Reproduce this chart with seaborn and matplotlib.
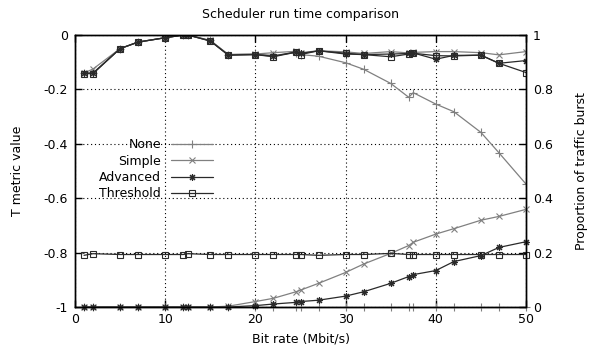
import matplotlib
matplotlib.use('Agg')
import matplotlib.pyplot as plt
import seaborn as sns
from matplotlib.ticker import FuncFormatter

# bit rate (Mbit/s)
bit_rate = [1, 2, 5, 7, 10, 12, 12.5, 15, 17, 20, 22, 24.5, 25, 27, 30, 32, 35, 37, 37.5, 40, 42, 45, 47, 50]

# T metric value (left axis)
t_none = [-0.14, -0.14, -0.05, -0.026, -0.01, 0, 0, -0.02, -0.072, -0.07, -0.075, -0.065, -0.072, -0.078,
          -0.102, -0.126, -0.178, -0.229, -0.212, -0.254, -0.282, -0.358, -0.433, -0.548]
t_simple = [-0.14, -0.125, -0.05, -0.026, -0.01, 0, 0, -0.02, -0.072, -0.07, -0.065, -0.06, -0.065, -0.058,
            -0.062, -0.068, -0.061, -0.066, -0.064, -0.061, -0.061, -0.065, -0.073, -0.061]
t_advanced = [-0.14, -0.14, -0.05, -0.026, -0.01, 0, 0, -0.022, -0.074, -0.072, -0.078, -0.062, -0.068, -0.058,
              -0.07, -0.072, -0.07, -0.068, -0.066, -0.089, -0.075, -0.074, -0.104, -0.094]
t_threshold = [-0.142, -0.142, -0.05, -0.026, -0.01, 0, 0, -0.022, -0.074, -0.072, -0.08, -0.063, -0.072, -0.058,
               -0.067, -0.072, -0.08, -0.07, -0.067, -0.076, -0.077, -0.074, -0.104, -0.138]

# proportion of traffic burst (right axis)
p_none = [0] * 24
p_simple = [0, 0, 0, 0, 0, 0, 0, 0, 0.003, 0.02, 0.032, 0.056, 0.062, 0.087, 0.127, 0.158, 0.197, 0.226,
            0.238, 0.268, 0.288, 0.319, 0.333, 0.359]
p_advanced = [0, 0, 0, 0, 0, 0, 0, 0, 0, 0.005, 0.011, 0.017, 0.02, 0.025, 0.04, 0.056, 0.087, 0.112,
              0.119, 0.134, 0.167, 0.189, 0.219, 0.24]
p_threshold = [0.19, 0.196, 0.193, 0.193, 0.193, 0.193, 0.196, 0.193, 0.193, 0.193, 0.193, 0.193, 0.193,
               0.19, 0.193, 0.193, 0.197, 0.193, 0.193, 0.193, 0.193, 0.193, 0.193, 0.193]

names = ['None', 'Simple', 'Advanced', 'Threshold']
gray = '#808080'
dark = '#2a2a2a'
styles = {
    'None': dict(color=gray, marker='+', markersize=5.5),
    'Simple': dict(color=gray, marker='x', markersize=4.5),
    'Advanced': dict(color=dark, marker=(8, 2, 0), markersize=5),
    'Threshold': dict(color=dark, marker='s', markersize=4.2),
}

sns.set_theme(style='white')
plt.rcParams['font.family'] = ['DejaVu Sans']
plt.rcParams['axes.unicode_minus'] = False
plt.rcParams['text.color'] = 'black'
plt.rcParams['axes.labelcolor'] = 'black'
fs = 9

fig = plt.figure(figsize=(5.94, 3.58), dpi=100)
ax = fig.add_axes([75 / 594, 1 - 307 / 358, 451 / 594, 272 / 358])
ax2 = ax.twinx()

for name, t_vals, p_vals in zip(names, [t_none, t_simple, t_advanced, t_threshold],
                                [p_none, p_simple, p_advanced, p_threshold]):
    st = styles[name]
    sns.lineplot(x=bit_rate, y=t_vals, ax=ax, label=name, linewidth=0.9, mfc='none',
                 markeredgewidth=0.8, markeredgecolor=st['color'], **st)
    sns.lineplot(x=bit_rate, y=p_vals, ax=ax2, legend=False, linewidth=0.9, mfc='none',
                 markeredgewidth=0.8, markeredgecolor=st['color'], clip_on=False, **st)

ax.set_xlim(0, 50)
ax.set_ylim(-1, 0)
ax2.set_ylim(0, 1)
ax.set_xticks([0, 10, 20, 30, 40, 50])
ax.set_yticks([0, -0.2, -0.4, -0.6, -0.8, -1])
ax2.set_yticks([0, 0.2, 0.4, 0.6, 0.8, 1])
fmt = FuncFormatter(lambda v, pos: '%g' % round(v, 2))
ax.yaxis.set_major_formatter(fmt)
ax2.yaxis.set_major_formatter(fmt)

ax.grid(True, color='black', linestyle=(0, (1, 2.5)), linewidth=0.8)
ax.tick_params(axis='x', direction='in', top=True, bottom=True, length=5, width=1, pad=4,
               labelsize=fs, colors='black')
ax.tick_params(axis='y', direction='in', left=True, right=False, length=5, width=1, pad=5,
               labelsize=fs, colors='black')
ax2.tick_params(axis='y', direction='in', right=True, length=5, width=1, pad=5,
                labelsize=fs, colors='black')
for a in (ax, ax2):
    for s in a.spines.values():
        s.set_visible(True)
        s.set_color('black')
        s.set_linewidth(1.0)

ax.set_xlabel('Bit rate (Mbit/s)', fontsize=fs, color='black', labelpad=5)
ax.set_ylabel('T metric value', fontsize=fs, color='black', labelpad=14)
ax2.set_ylabel('Proportion of traffic burst', fontsize=fs, color='black', labelpad=16)
ax.set_title('Scheduler run time comparison', fontsize=fs, color='black', pad=12)

leg = ax.legend(loc='upper right', bbox_to_anchor=(0.306, 0.62), frameon=False, markerfirst=False,
                fontsize=fs, handlelength=3.4, handletextpad=0.75, labelspacing=0.27,
                borderpad=0, borderaxespad=0)
for txt in leg.get_texts():
    txt.set_color('black')

fig.savefig('out.png', dpi=100)
